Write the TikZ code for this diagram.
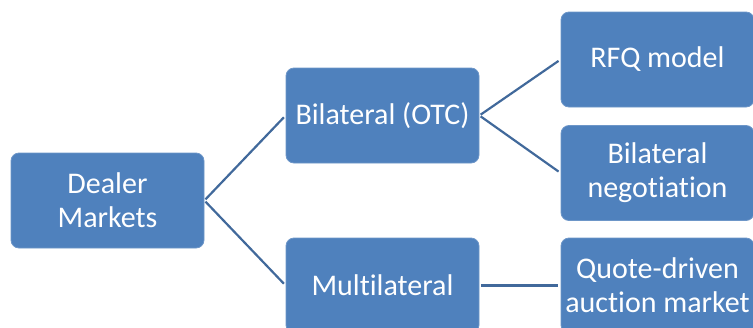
\documentclass[tikz,border=0pt]{standalone}
\usepackage{fontspec}
\setmainfont[Ligatures={NoCommon,NoRare,NoContextual}]{Carlito}
\definecolor{boxblue}{HTML}{4F81BD}
\definecolor{boxedge}{HTML}{6D96C8}
\definecolor{linkblue}{HTML}{41699B}
\begin{document}
\begin{tikzpicture}[x=1pt,y=-1pt,
  box/.style={draw=boxedge,line width=0.8pt,fill=boxblue,rounded corners=8pt,
    minimum width=193pt,minimum height=95pt,inner sep=0pt,text=white,
    align=center,font=\fontsize{30}{34}\selectfont},
  link/.style={draw=linkblue,line width=2.2pt,shorten <=1.5pt,shorten >=2.5pt}]
\useasboundingbox (0,0) rectangle (753,327);
\node[box] (dealer) at (107.5,200.5) {Dealer\\Markets};
\node[box] (bil) at (382.5,115.5) {Bilateral (OTC)};
\node[box] (multi) at (382.5,285.5) {Multilateral};
\node[box] (rfq) at (657.5,59.5) {RFQ model};
\node[box] (neg) at (657.5,173) {Bilateral\\negotiation};
\node[box] (quote) at (657.5,285.5) {Quote-driven\\auction market};
\draw[link] (dealer.east) -- (bil.west);
\draw[link] (dealer.east) -- (multi.west);
\draw[link] (bil.east) -- (rfq.west);
\draw[link] (bil.east) -- (neg.west);
\draw[link] (multi.east) -- (quote.west);
\end{tikzpicture}
\end{document}
